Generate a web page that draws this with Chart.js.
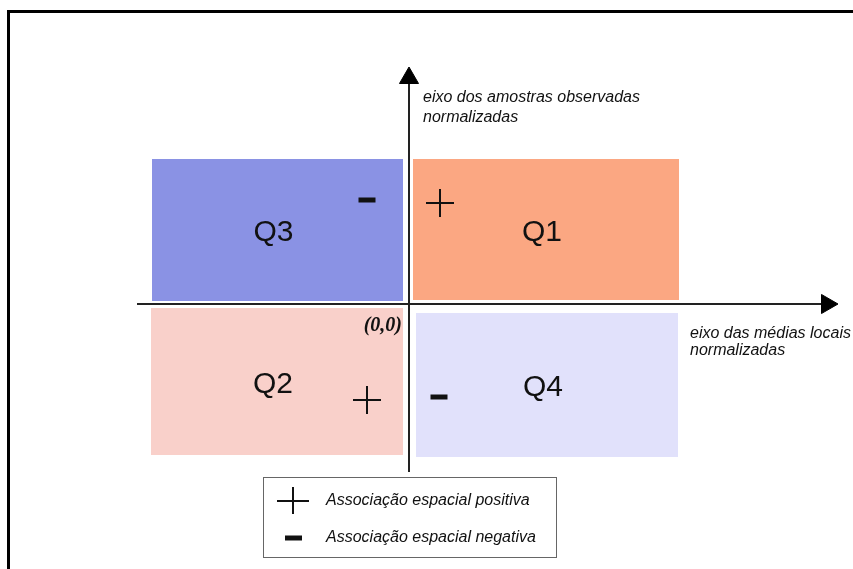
<!DOCTYPE html>
<html><head><meta charset="utf-8">
<script src="https://cdn.jsdelivr.net/npm/chart.js@4.4.0/dist/chart.umd.min.js"></script>
<style>
html,body{margin:0;padding:0;background:#fff;overflow:hidden}
#wrap{position:relative;width:853px;height:569px}
#frame{position:absolute;left:7px;top:10px;width:900px;height:700px;border:3px solid #000;pointer-events:none}
</style></head><body>
<div id="wrap"><canvas id="c"></canvas><div id="frame"></div></div>
<script>
// ---- data (chart units; origin = axes intersection) ----
const quadrants = ['Q1', 'Q2', 'Q3', 'Q4'];
const quadX0 = [0.04, -2.58, -2.57, 0.07];
const quadX1 = [2.70, -0.06, -0.06, 2.69];
const quadY0 = [0.04, -1.51, 0.03, -1.53];
const quadY1 = [1.45, -0.04, 1.45, -0.09];
const plusX = [0.31, -0.42];
const plusY = [1.01, -0.96];
const minusX = [-0.42, 0.30];
const minusY = [1.04, -0.93];
const xAxisSpan = [-2.72, 4.18];
const yAxisSpan = [-1.68, 2.26];
const yAxisTitle = ['eixo dos amostras observadas', 'normalizadas'];
const xAxisTitle = ['eixo das médias locais', 'normalizadas'];
const originLabel = '(0,0)';
const legendLabels = ['Associação espacial positiva', 'Associação espacial negativa'];
const viewX = [-4.09, 4.44];
const viewY = [-2.65, 3.04];

// ---- styles ----
const quadColors = ['#fba782', '#f9d0ca', '#8a92e4', '#e1e1fb'];
const ink = '#111';

const datasets = [];
datasets.push({label: 'yaxis', data: [{x: 0, y: yAxisSpan[0]}, {x: 0, y: yAxisSpan[1]}], showLine: true,
  borderColor: '#222', borderWidth: 2, pointRadius: [0, 11], pointStyle: 'triangle', rotation: 0,
  pointBackgroundColor: '#000', pointBorderColor: '#000', pointBorderWidth: 1});
datasets.push({label: 'xaxis', data: [{x: xAxisSpan[0], y: 0}, {x: xAxisSpan[1], y: 0}], showLine: true,
  borderColor: '#222', borderWidth: 2, pointRadius: [0, 11], pointStyle: 'triangle', rotation: 90,
  pointBackgroundColor: '#000', pointBorderColor: '#000', pointBorderWidth: 1});
datasets.push({label: legendLabels[0], data: plusX.map((v, i) => ({x: v, y: plusY[i]})),
  pointStyle: 'cross', pointRadius: 14, pointBorderWidth: 2, pointBorderColor: ink, showLine: false});
datasets.push({label: legendLabels[1], data: minusX.map((v, i) => ({x: v, y: minusY[i]})),
  pointStyle: 'line', pointRadius: 8.5, pointBorderWidth: 5, pointBorderColor: ink, showLine: false});
quadrants.forEach((q, i) => {
  datasets.push({label: q, data: [
    {x: quadX0[i], y: quadY0[i]}, {x: quadX1[i], y: quadY0[i]},
    {x: quadX1[i], y: quadY1[i]}, {x: quadX0[i], y: quadY1[i]}, {x: quadX0[i], y: quadY0[i]}],
    showLine: true, fill: 'shape', backgroundColor: quadColors[i], borderWidth: 0,
    borderColor: 'rgba(0,0,0,0)', pointRadius: 0, tension: 0});
});

const annot = {
  id: 'annot',
  afterDatasetsDraw(chart) {
    const {ctx, scales: {x, y}} = chart;
    ctx.save();
    ctx.fillStyle = ink;
    ctx.textBaseline = 'middle';
    // quadrant labels at quadrant centres
    ctx.textAlign = 'center';
    ctx.font = '30px "Liberation Sans", Arial, sans-serif';
    quadrants.forEach((q, i) => {
      ctx.fillText(q, x.getPixelForValue((quadX0[i] + quadX1[i]) / 2) - 4, y.getPixelForValue((quadY0[i] + quadY1[i]) / 2) + 3);
    });
    // axis titles
    ctx.textAlign = 'left';
    ctx.font = 'italic 16px "Liberation Sans", Arial, sans-serif';
    const ox = x.getPixelForValue(0), oy = y.getPixelForValue(0);
    const ytop = y.getPixelForValue(yAxisSpan[1]);
    yAxisTitle.forEach((t, i) => ctx.fillText(t, ox + 14, ytop + 20 + i * 20));
    const xr = x.getPixelForValue(quadX1[0]);
    xAxisTitle.forEach((t, i) => ctx.fillText(t, xr + 11, oy + 30 + i * 17));
    // origin label
    ctx.textAlign = 'right';
    ctx.font = 'bold italic 20px "Liberation Serif", "Times New Roman", serif';
    ctx.fillText(originLabel, ox - 7, oy + 22);
    // legend box
    const bx = 263, by = 477, bw = 293, bh = 80;
    ctx.strokeStyle = '#666';
    ctx.lineWidth = 1;
    ctx.strokeRect(bx + 0.5, by + 0.5, bw, bh);
    ctx.font = 'italic 16px "Liberation Sans", Arial, sans-serif';
    ctx.textAlign = 'left';
    [2, 3].forEach((di, k) => {
      const ds = chart.data.datasets[di];
      const cy = by + 24 + k * 37;
      ctx.save();
      ctx.strokeStyle = ink; ctx.lineWidth = ds.pointBorderWidth;
      ctx.beginPath();
      if (k === 0) { ctx.moveTo(bx + 14, cy); ctx.lineTo(bx + 46, cy); ctx.moveTo(bx + 30, cy - 14); ctx.lineTo(bx + 30, cy + 13); }
      else { ctx.moveTo(bx + 22, cy); ctx.lineTo(bx + 39, cy); }
      ctx.stroke();
      ctx.restore();
      ctx.fillText(ds.label, bx + 63, cy);
    });
    ctx.restore();
  }
};

new Chart(document.getElementById('c'), {
  type: 'scatter',
  data: {datasets},
  options: {
    responsive: true, maintainAspectRatio: false, animation: false,
    layout: {padding: 0, autoPadding: false},
    plugins: {legend: {display: false}, tooltip: {enabled: false}},
    scales: {
      x: {type: 'linear', display: false, min: viewX[0], max: viewX[1]},
      y: {type: 'linear', display: false, min: viewY[0], max: viewY[1]}
    }
  },
  plugins: [annot]
});
</script></body></html>
